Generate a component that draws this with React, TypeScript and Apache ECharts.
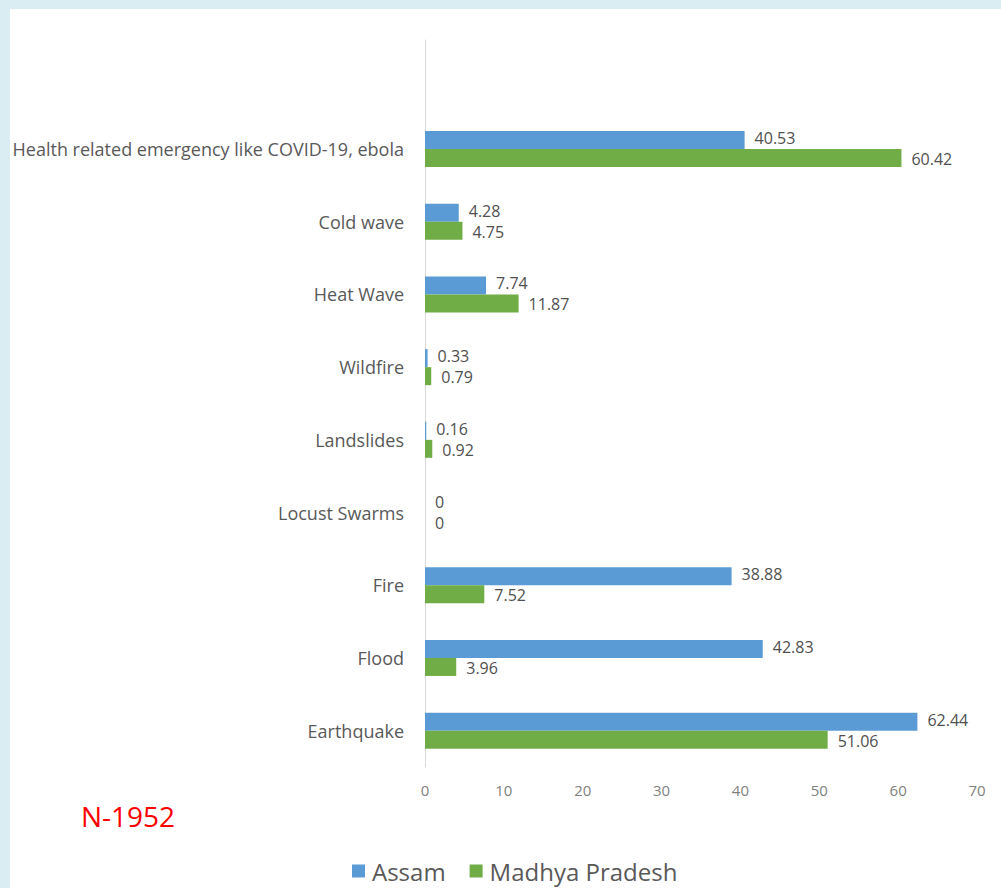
import React, { useEffect, useRef } from "react";
import * as echarts from "echarts";

const categories = [
  "",
  "Health related emergency like COVID-19, ebola",
  "Cold wave",
  "Heat Wave",
  "Wildfire",
  "Landslides",
  "Locust Swarms",
  "Fire",
  "Flood",
  "Earthquake",
];
const assam = [null, 40.53, 4.28, 7.74, 0.33, 0.16, 0, 38.88, 42.83, 62.44];
const madhyaPradesh = [null, 60.42, 4.75, 11.87, 0.79, 0.92, 0, 7.52, 3.96, 51.06];
const seriesNames = ["Assam", "Madhya Pradesh"];
const note = "N-1952";

const FONT = "'Open Sans', Lato, sans-serif";

export default function App() {
  const ref = useRef<HTMLDivElement>(null);
  useEffect(() => {
    if (!ref.current) return;
    const chart = echarts.init(ref.current, null, { renderer: "svg" });
    const label = (dy: number) => ({
      show: true,
      position: "right" as const,
      distance: 10,
      offset: [0, dy],
      color: "#505050",
      fontSize: 16,
      lineHeight: 16,
      fontFamily: FONT,
    });
    chart.setOption({
      animation: false,
      textStyle: { fontFamily: FONT },
      grid: { left: 425, right: 24, top: 40, bottom: 121 },
      legend: {
        data: seriesNames,
        left: 347,
        top: 853,
        itemWidth: 13,
        itemHeight: 13,
        itemGap: 24,
        icon: "rect",
        textStyle: { fontSize: 24, lineHeight: 26, color: "#595959", fontFamily: FONT, padding: [0, 0, 0, 2] },
      },
      xAxis: {
        type: "value",
        min: 0,
        max: 70,
        interval: 10,
        axisLine: { show: false },
        axisTick: { show: false },
        splitLine: { show: false },
        axisLabel: { color: "#7f7f7f", fontSize: 15, margin: 15, fontFamily: FONT },
      },
      yAxis: {
        type: "category",
        inverse: true,
        data: categories,
        axisLine: { show: true, lineStyle: { color: "#d9d9d9", width: 1 } },
        axisTick: { show: false },
        axisLabel: { color: "#595959", fontSize: 18, margin: 21, fontFamily: FONT },
      },
      graphic: [
        {
          type: "text",
          left: 81,
          top: 802,
          style: { text: note, fill: "#ff0000", fontSize: 28, fontFamily: FONT },
        },
      ],
      series: [
        {
          name: seriesNames[0],
          type: "bar",
          data: assam,
          itemStyle: { color: "#5b9bd5" },
          barWidth: 18,
          barGap: "0%",
          label: label(-2),
        },
        {
          name: seriesNames[1],
          type: "bar",
          data: madhyaPradesh,
          itemStyle: { color: "#70ad47" },
          barWidth: 18,
          barGap: "0%",
          label: label(1),
        },
      ],
    });
    return () => chart.dispose();
  }, []);
  return (
    <div
      style={{
        position: "fixed",
        left: 0,
        top: 0,
        width: 1001,
        height: 888,
        background: "#daedf2",
      }}
    >
      <div
        style={{
          position: "absolute",
          left: 10,
          top: 9,
          width: 991,
          height: 879,
          background: "#ffffff",
        }}
      />
      <div ref={ref} style={{ position: "absolute", left: 0, top: 0, width: 1001, height: 888 }} />
    </div>
  );
}
